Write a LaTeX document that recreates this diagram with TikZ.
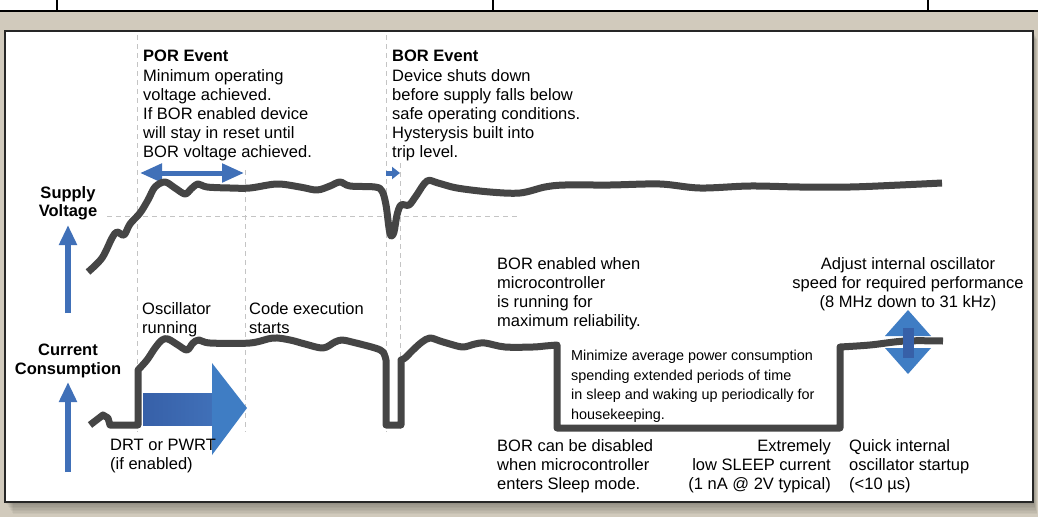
\documentclass[tikz,border=0pt]{standalone}
\usepackage{fontspec}
\setmainfont{Liberation Sans}
\usetikzlibrary{arrows.meta}
\definecolor{beige}{HTML}{D1CABC}
\definecolor{tracegray}{HTML}{454545}
\definecolor{arrowblue}{HTML}{4070B8}
\definecolor{darkblue}{HTML}{3760A8}
\definecolor{lightblue}{HTML}{3F7DC4}
\definecolor{guidegray}{HTML}{C4C4C4}
\begin{document}
\begin{tikzpicture}[x=1pt,y=-1pt]
\tikzset{
  txt/.style={anchor=north west,inner sep=0pt,align=left,font=\fontsize{16.5}{19}\selectfont},
  hd/.style={txt,font=\fontsize{16.5}{19}\selectfont\bfseries},
  axislabel/.style={anchor=north,inner sep=0pt,align=center,font=\fontsize{16.5}{18.5}\selectfont\bfseries},
  note/.style={txt,font=\fontsize{14.4}{19.5}\selectfont},
  guide/.style={draw=guidegray,line width=1pt,dash pattern=on 5pt off 4pt},
  trace/.style={draw=tracegray,line width=7pt,line join=round},
  uparrow/.style={draw=arrowblue,line width=6pt,-{Triangle[width=17pt,length=20pt]}},
}
\useasboundingbox (0,0) rectangle (1038,517);
\fill[beige] (0,0) rectangle (1038,517);
% header strip
\fill[white] (0,0) rectangle (1038,11);
\draw[line width=1.5pt] (0,11) -- (1038,11);
\foreach \x in {57,493,928} \draw[line width=1.5pt] (\x,0) -- (\x,11);
% panel
\foreach \k in {1,...,8}
  \fill[black,opacity=0.04] (5+\k,31+\k) rectangle (1033+\k/2,502+1.5*\k);
\draw[fill=white,draw=black!85,line width=1.8pt] (5,31) rectangle (1033,502);

% guides
\foreach \x/\top in {137/35,245/170,386/35,400/163}
  \draw[guide] (\x,\top) -- (\x,432);
\draw[guide] (107,216) -- (520,216);

% labels on the left
\node[axislabel] (vdd) at (68,186) {Supply\\Voltage};
\node[axislabel] (idd) at (68,344) {Current\\Consumption};
\coordinate (vdd-foot) at (68,313);
\coordinate (vdd-tip) at (68,225);
\coordinate (idd-foot) at (68,472);
\coordinate (idd-tip) at (68,382);
\draw[uparrow] (vdd-foot) -- (vdd-tip);
\draw[uparrow] (idd-foot) -- (idd-tip);

% events
\node[hd] (por-head) at (143,50) {POR Event};
\node[txt] (por-text) at (143,69) {Minimum operating\\voltage achieved.\\If BOR enabled device\\will stay in reset until\\BOR voltage achieved.};
\node[hd] (bor-head) at (392,50) {BOR Event};
\node[txt] (bor-text) at (392,69) {Device shuts down\\before supply falls below\\safe operating conditions.\\Hysterysis built into\\trip level.};

\coordinate (por-l) at (140,173);
\coordinate (por-r) at (244,173);
\coordinate (bor-l) at (386,173);
\coordinate (bor-r) at (400,173);
\draw[draw=arrowblue,line width=5pt,{Triangle[width=18pt,length=22pt]}-{Triangle[width=18pt,length=22pt]}] (por-l) -- (por-r);
\draw[draw=arrowblue,line width=5pt,-{Triangle[width=12pt,length=8pt]}] (bor-l) -- (bor-r);

% supply voltage
\draw[trace] plot[smooth,tension=0.55] coordinates {
  (88,272) (102,258) (112,238) (117,232) (124,235) (130,224) (140,213)
  (148,200) (155,187) (165,182) (175,188) (185,194) (191,189) (198,184)
  (207,187) (230,188) (250,188) (277,184) (300,187) (317,190) (330,186)
  (340,182) (350,186) (375,187) (382,191) (386,205) (389,228) (391,236)
  (394,232) (397,215) (401,205) (409,205) (416,196) (427,181) (438,183)
  (457,188) (490,192) (520,193) (545,187) (565,185) (610,185) (660,184)
  (700,188) (750,186) (800,187) (850,187) (900,185) (942,183)};

% current consumption
\draw[trace] (90,425) -- (103,415) -- (108,418) -- (110,425) -- (138,425) -- (138,370)
  -- plot[smooth,tension=0.55] coordinates {
  (138,370) (147,360) (155,348) (162,340) (168,339) (178,345) (187,350)
  (193,343) (199,340) (210,343) (250,343) (273,338) (290,340) (305,344)
  (323,348) (335,342) (342,340) (352,342) (375,348) (383,352) (386,360)}
  -- (386,425) -- (401,425) -- (401,360)
  -- plot[smooth,tension=0.55] coordinates {
  (401,360) (405,358) (413,350) (422,342) (430,338) (440,341) (450,344)
  (463,347) (475,344) (485,343) (505,347) (533,347) (545,346) (557,345)}
  -- (557,428) -- (840,428) -- (840,347)
  -- plot[smooth,tension=0.55] coordinates {(840,347) (870,345) (905,341) (943,341)};

% start-up arrow
\fill[left color=darkblue,right color=arrowblue] (143,393) rectangle (213,425);
\fill[lightblue] (212,363) -- (247,408) -- (212,455) -- cycle;

% speed arrow
\fill[lightblue] (885,336) -- (908,310) -- (931,336) -- cycle;
\fill[lightblue] (885,348) -- (908,374) -- (931,348) -- cycle;
\fill[darkblue] (903,328) rectangle (914,358);

% texts along the traces
\node[txt] (osc) at (142,302) {Oscillator\\running};
\node[txt] (code) at (249,302) {Code execution\\starts};
\node[txt] (drt) at (110,439) {DRT or PWRT\\(if enabled)};
\node[txt] (bor-on) at (497,257) {BOR enabled when\\microcontroller\\is running for\\maximum reliability.};
\node[txt,anchor=north,align=center] (adjust) at (908,257) {Adjust internal oscillator\\speed for required performance\\(8 MHz down to 31 kHz)};
\node[note] (minimize) at (571,350) {Minimize average power consumption\\spending extended periods of time\\in sleep and waking up periodically for\\housekeeping.};
\node[txt] (bor-off) at (497,439) {BOR can be disabled\\when microcontroller\\enters Sleep mode.};
\node[txt,anchor=north east,align=right] (sleep-i) at (831,439) {Extremely\\low SLEEP current\\(1 nA @ 2V typical)};
\node[txt] (quick) at (849,439) {Quick internal\\oscillator startup\\(<10 µs)};
\end{tikzpicture}
\end{document}
